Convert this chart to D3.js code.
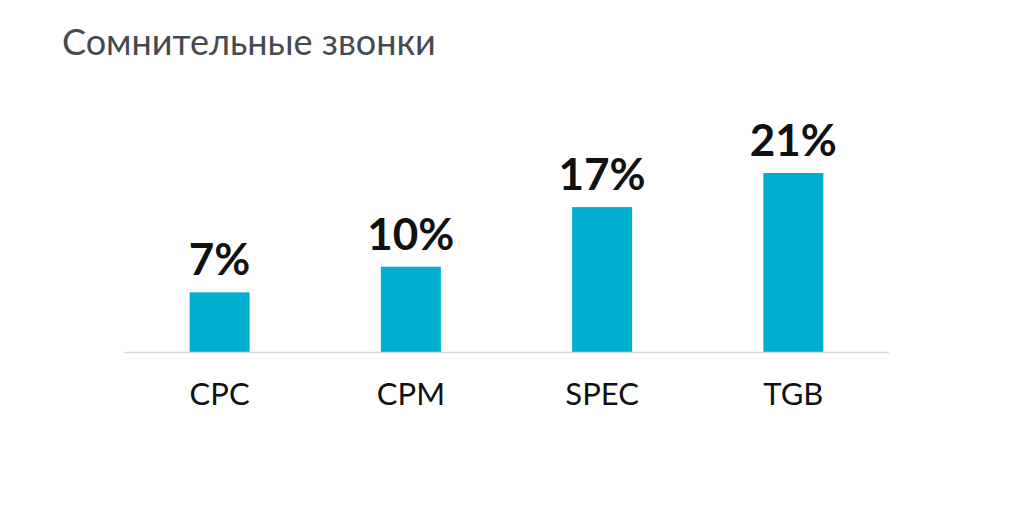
<!DOCTYPE html>
<html>
<head>
<meta charset="utf-8">
<script src="https://cdn.jsdelivr.net/npm/d3@7"></script>
<style>
  body { margin: 0; background: #fff; }
  svg { font-family: Lato, "Open Sans", sans-serif; }
</style>
</head>
<body>
<svg id="chart" width="1014" height="512"></svg>
<script>
// Chart data
const categories = ["CPC", "CPM", "SPEC", "TGB"];
const values = [7, 10, 17, 21];

const svg = d3.select("#chart");
const baseY = 352;
const barW = 60;

const x = d3.scalePoint().domain(categories).range([124, 889]).padding(0.5);
const y = d3.scaleLinear().domain([0, 21]).range([baseY, 173]);

svg.append("text")
    .attr("x", 62).attr("y", 55)
    .attr("font-size", 36)
    .attr("fill", "#454a4f")
    .text("Сомнительные звонки");

svg.selectAll("rect.bar")
    .data(categories)
    .join("rect")
    .attr("class", "bar")
    .attr("x", (d) => x(d) - barW / 2)
    .attr("width", barW)
    .attr("y", (d, i) => y(values[i]))
    .attr("height", (d, i) => baseY - y(values[i]))
    .attr("fill", "#00afd0");

// baseline
svg.append("line")
    .attr("x1", 124).attr("x2", 889)
    .attr("y1", baseY + 0.5).attr("y2", baseY + 0.5)
    .attr("stroke", "#d8d8d8").attr("stroke-width", 1.5);

svg.selectAll("text.val")
    .data(categories)
    .join("text")
    .attr("class", "val")
    .attr("x", (d) => x(d))
    .attr("y", (d, i) => y(values[i]) - 17)
    .attr("text-anchor", "middle")
    .attr("font-size", 44)
    .attr("font-weight", "bold")
    .attr("fill", "#111")
    .text((d, i) => values[i] + "%");

svg.selectAll("text.cat")
    .data(categories)
    .join("text")
    .attr("class", "cat")
    .attr("x", (d) => x(d))
    .attr("y", 405)
    .attr("text-anchor", "middle")
    .attr("font-size", 31)
    .attr("fill", "#111")
    .text((d) => d);
</script>
</body>
</html>
